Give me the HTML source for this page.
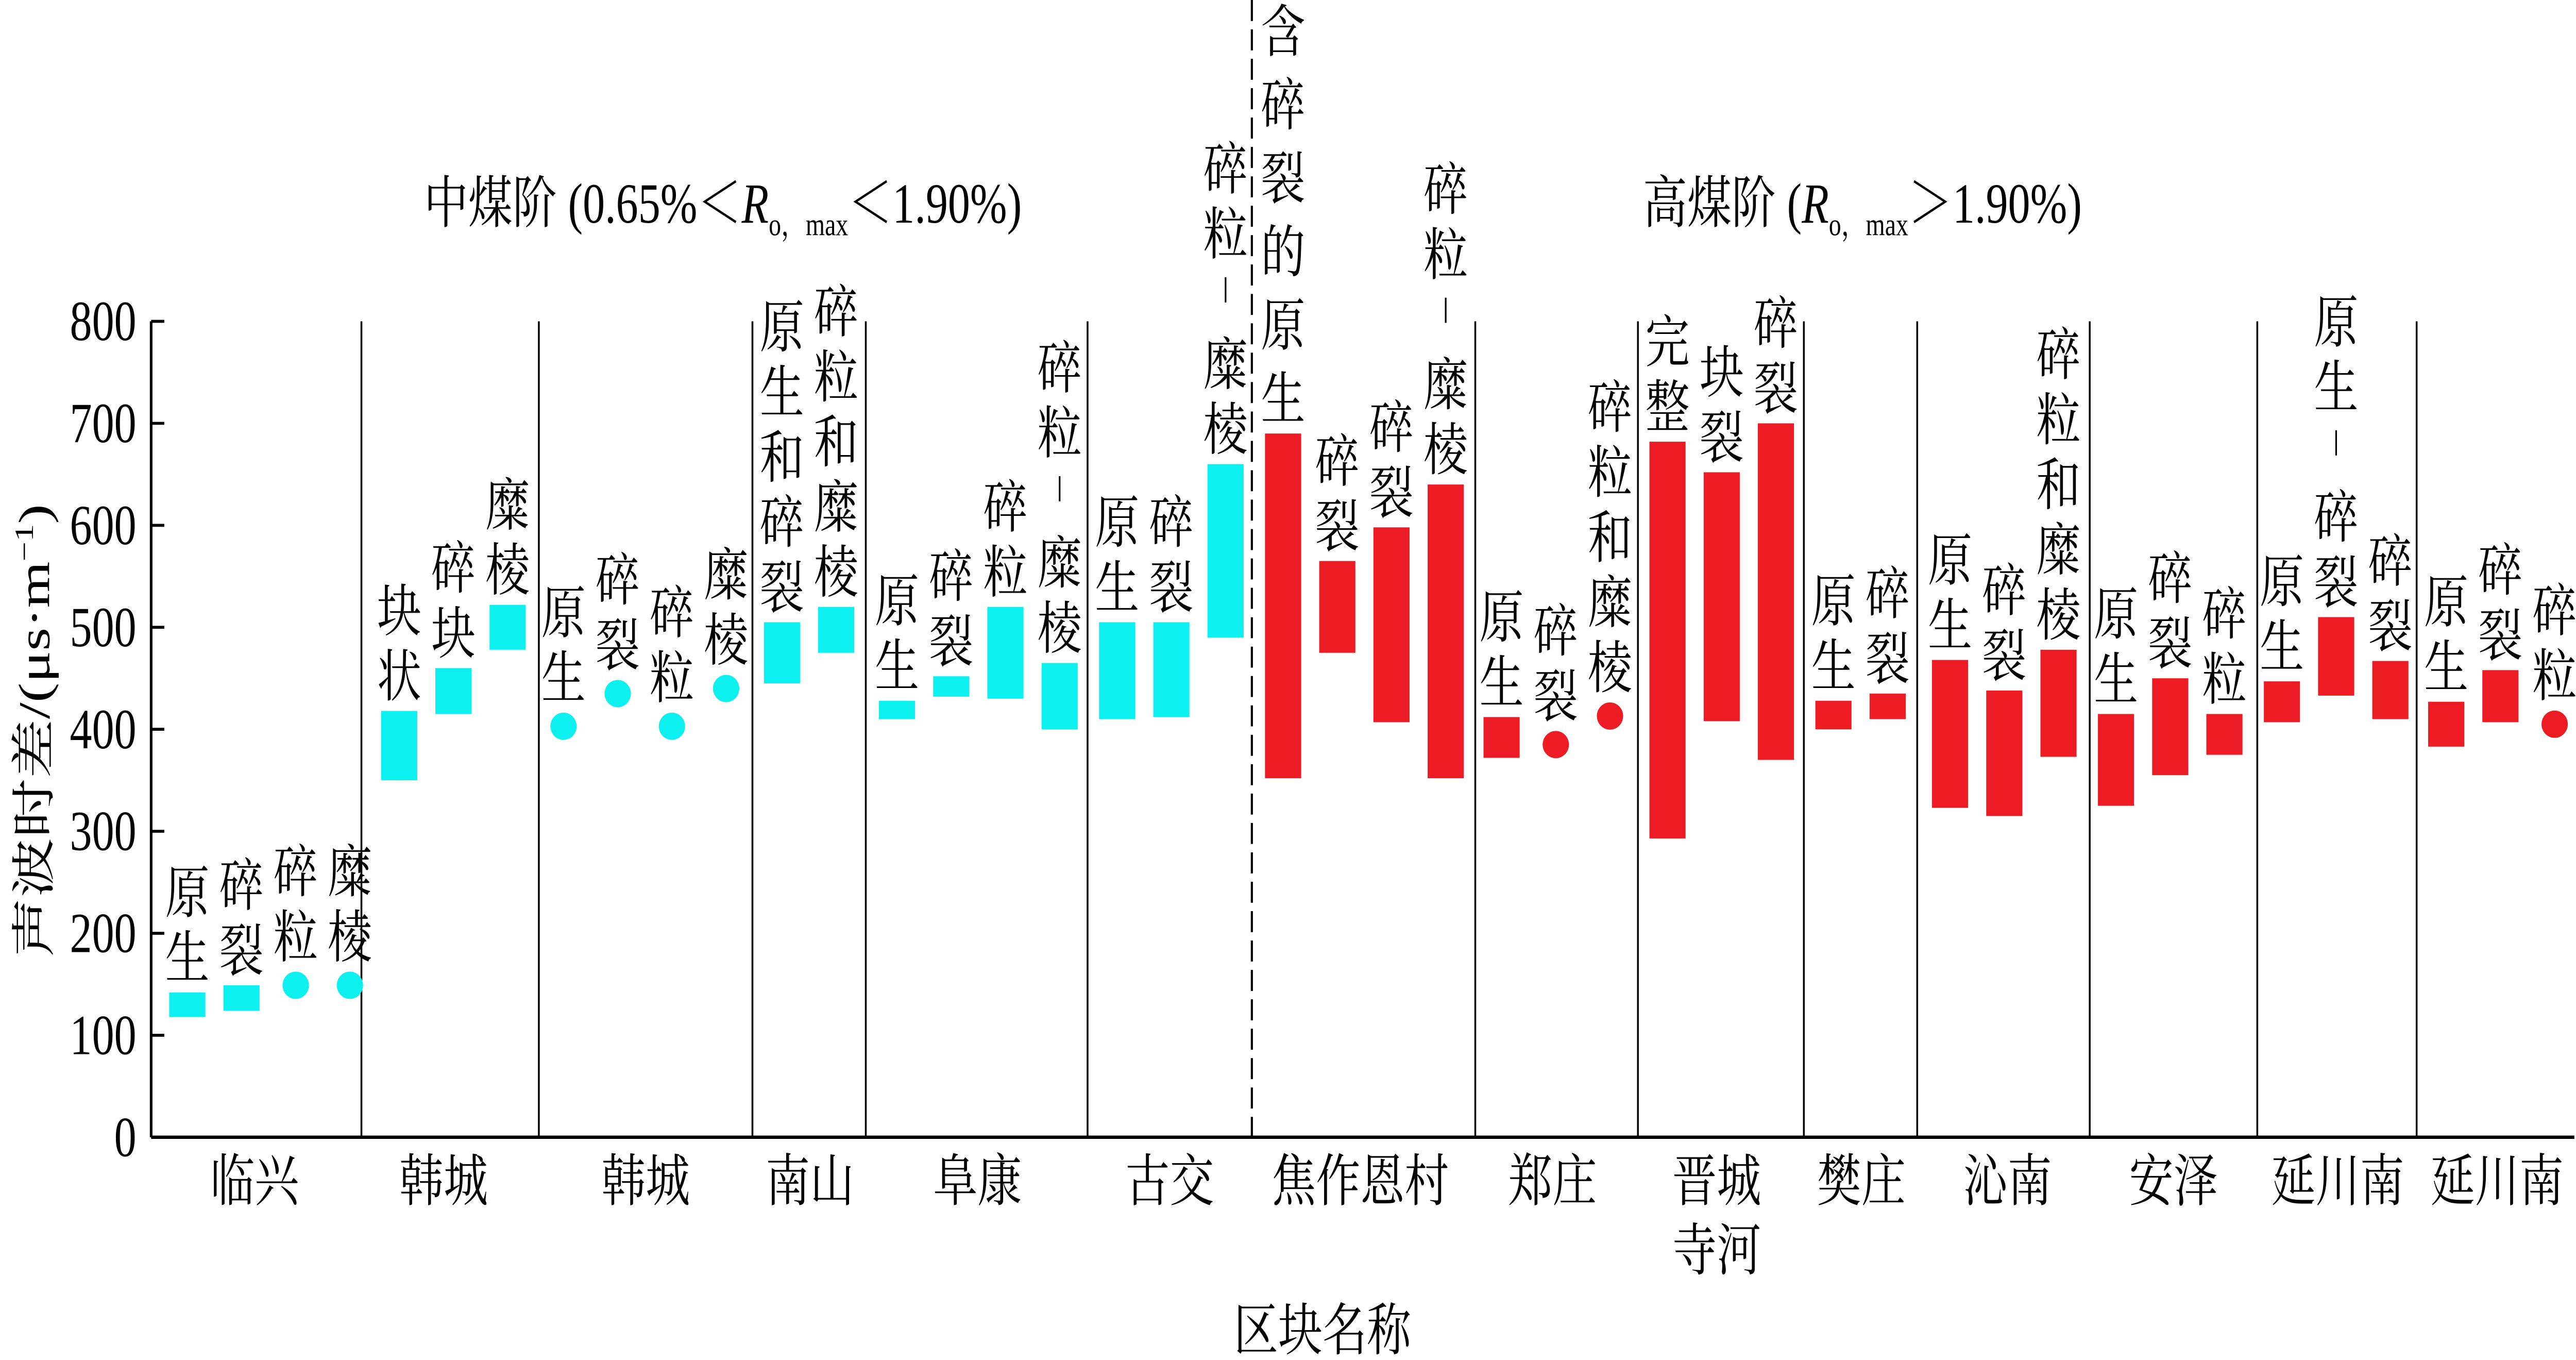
<!DOCTYPE html>
<html><head><meta charset="utf-8"><style>
html,body{margin:0;padding:0;background:#fff;width:100%;height:100%;overflow:hidden;}
svg{display:block;position:fixed;left:0;top:0;width:100vw;height:100vh;}
</style></head><body>
<svg id="chart" xmlns="http://www.w3.org/2000/svg" viewBox="0 0 1568 647.8" preserveAspectRatio="none">
<g id="axes"></g>
<g id="marks"></g>
<text x="258" y="106" font-family="'Liberation Serif','Noto Serif CJK SC',serif" font-size="27">中煤阶 (0.65%＜<tspan font-style="italic">R</tspan><tspan font-size="15" dy="6">o，max</tspan><tspan dy="-6">＜1.90%)</tspan></text>
<text x="1000" y="106" font-family="'Liberation Serif','Noto Serif CJK SC',serif" font-size="27">高煤阶 (<tspan font-style="italic">R</tspan><tspan font-size="15" dy="6">o，max</tspan><tspan dy="-6">＞1.90%)</tspan></text>
<text transform="translate(30,348) scale(1,1.05) rotate(-90)" text-anchor="middle" font-family="'Liberation Serif','Noto Serif CJK SC',serif" font-size="27">声波时差/(μs·m<tspan font-size="16" dy="-10">−1</tspan><tspan dy="10">)</tspan></text>
<text x="805" y="643" text-anchor="middle" font-family="'Liberation Serif','Noto Serif CJK SC',serif" font-size="27">区块名称</text>
</svg>
<script>
const yTicks = [0,100,200,300,400,500,600,700,800];
const groupNames = ["临兴","韩城","韩城","南山","阜康","古交","焦作恩村","郑庄","晋城|寺河","樊庄","沁南","安泽","延川南","延川南"];
const groupHigh = [0,0,0,0,0,0,1,1,1,1,1,1,1,1];
const barGroup = [0,0,0,0, 1,1,1, 2,2,2,2, 3,3, 4,4,4,4, 5,5,5, 6,6,6,6, 7,7,7, 8,8,8, 9,9, 10,10,10, 11,11,11, 12,12,12, 13,13,13];
const barLow  = [118,124,149,149, 350,415,478, 403,435,403,440, 445,475, 410,432,430,400, 410,412,490, 352,475,407,352, 372,385,413, 293,408,370, 400,410, 323,315,373, 325,355,375, 407,433,410, 383,407,405];
const barHigh = [142,149,149,149, 418,460,522, 403,435,403,440, 505,520, 428,452,520,465, 505,505,660, 690,565,598,640, 412,385,413, 682,652,700, 428,435, 468,438,478, 415,450,415, 447,510,467, 427,458,405];
const barIsDot = [0,0,1,1, 0,0,0, 1,1,1,1, 0,0, 0,0,0,0, 0,0,0, 0,0,0,0, 0,1,1, 0,0,0, 0,0, 0,0,0, 0,0,0, 0,0,0, 0,0,1];
const barLabels = ["原生","碎裂","碎粒","糜棱", "块状","碎块","糜棱", "原生","碎裂","碎粒","糜棱", "原生和碎裂","碎粒和糜棱", "原生","碎裂","碎粒","碎粒|糜棱", "原生","碎裂","碎粒|糜棱", "含碎裂的原生","碎裂","碎裂","碎粒|糜棱", "原生","碎裂","碎粒和糜棱", "完整","块裂","碎裂", "原生","碎裂", "原生","碎裂","碎粒和糜棱", "原生","碎裂","碎粒", "原生","原生|碎裂","碎裂", "原生","碎裂","碎粒"];

// layout
const sepX = [92,220,328,458,527,662,762,898,997,1098,1167,1272,1374,1471,1567];
const firstOff = [11,12,4,7,8,7,8,5,7,7,9,5,4,7];
const nameX = [155,270,393,493,595,712,828,945,1045,1133,1222,1323,1423,1520];
const step = 33, bw = 22;
const Y0 = 541.7, PER = 0.4858;
function yScale(v){ return Y0 - v*PER; }
const NS = "http://www.w3.org/2000/svg";
const FONT = "'Liberation Serif','Noto Serif CJK SC',serif";
function mk(tag, attrs, parent){ const e=document.createElementNS(NS,tag); for(const k in attrs) e.setAttribute(k,attrs[k]); parent.appendChild(e); return e; }
const axes = document.getElementById('axes');
const marks = document.getElementById('marks');

let l = mk('line',{x1:92,y1:yScale(800),x2:92,y2:Y0,stroke:'#000','stroke-width':1.6},axes);


l = mk('line',{x1:92,y1:Y0,x2:1567,y2:Y0,stroke:'#000','stroke-width':1.6},axes);


yTicks.forEach(v=>{
  const t = mk('line',{x1:92,y1:yScale(v),x2:100,y2:yScale(v),stroke:'#000','stroke-width':1.4},axes);
  
  
  const tx = mk('text',{x:83,y:yScale(v)+9,'text-anchor':'end','font-family':FONT,'font-size':27},axes);
  tx.textContent = v;
  
  
});
for(let i=1;i<sepX.length-1;i++){
  const dashed = (i===6);
  const s = mk('line',{x1:sepX[i],y1:dashed?0:yScale(800),x2:sepX[i],y2:Y0,stroke:'#000','stroke-width':dashed?1.3:1.1},axes);
  if(dashed) s.setAttribute('stroke-dasharray','10 4');
  
  
}
groupNames.forEach((n,i)=>{
  const parts = n.split('|');
  parts.forEach((p,j)=>{
    const t = mk('text',{x:nameX[i],y:572+j*33,'text-anchor':'middle','font-family':FONT,'font-size':27},axes);
    t.textContent = p;
    
    
  });
});

const counter = {};
barLow.forEach((lo,i)=>{
  const g = barGroup[i];
  counter[g] = (counter[g]||0);
  const idx = counter[g]++;
  const x = sepX[g] + firstOff[g] + idx*step;
  const cx = x + bw/2;
  const col = groupHigh[g] ? '#ed1c24' : '#0cf0f0';
  const hi = barHigh[i];
  let top;
  if(barIsDot[i]){
    const cy = yScale(hi);
    const e = mk('ellipse',{cx:cx,cy:cy,rx:8,ry:6.5,fill:col},marks);
    
    
    top = cy-6.5;
  } else {
    const r = mk('rect',{x:x,y:yScale(hi),width:bw,height:yScale(lo)-yScale(hi),fill:col},marks);
    
    
    top = yScale(hi);
  }
  const segs = barLabels[i].split('|');
  const chars = [];
  segs.forEach((s,k)=>{ if(k>0) chars.push('|'); for(const c of s) chars.push(c); });
  const lh = chars.length >= 6 ? 35 : 31;
  let base = top - 7;
  for(let k=chars.length-1;k>=0;k--){
    if(chars[k]==='|'){
      const d = mk('line',{x1:cx,y1:base-20,x2:cx,y2:base-8,stroke:'#000','stroke-width':1},marks);
      
      
    } else {
      const t = mk('text',{x:cx,y:base,'text-anchor':'middle','font-family':FONT,'font-size':27},marks);
      t.textContent = chars[k];
      
      
    }
    base -= lh;
  }
});
</script>
</body></html>
